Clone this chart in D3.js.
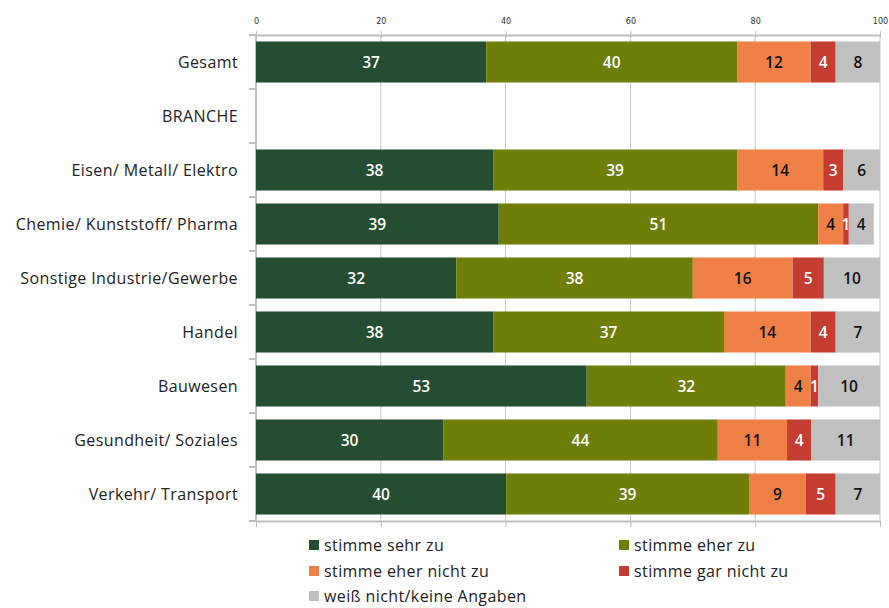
<!DOCTYPE html>
<html>
<head>
<meta charset="utf-8">
<script src="https://cdn.jsdelivr.net/npm/d3@7"></script>
<style>
  body { margin: 0; background: #fff; }
  svg { font-family: "Open Sans", Lato, sans-serif; }
</style>
</head>
<body>
<div class="chart"></div>
<script>
const width = 889;
const height = 608;

// categories (top to bottom)
const categories = [
    "Gesamt",
    "BRANCHE",
    "Eisen/ Metall/ Elektro",
    "Chemie/ Kunststoff/ Pharma",
    "Sonstige Industrie/Gewerbe",
    "Handel",
    "Bauwesen",
    "Gesundheit/ Soziales",
    "Verkehr/ Transport",
];

const seriesNames = [
    "stimme sehr zu",
    "stimme eher zu",
    "stimme eher nicht zu",
    "stimme gar nicht zu",
    "weiß nicht/keine Angaben",
];

const seriesColors = ["#254D32", "#6E7E06", "#F08146", "#C43D30", "#C0C0C0"];
const labelColors = ["#fff", "#fff", "#111", "#fff", "#111"];

// segment widths (percent)
const sehrZu = [36.9, null, 38.0, 38.9, 32.1, 38.0, 53.0, 30.0, 40.1];
const eherZu = [40.2, null, 39.1, 51.2, 37.9, 37.0, 31.9, 44.0, 38.9];
const eherNicht = [11.8, null, 13.8, 4.0, 16.0, 13.9, 4.0, 11.1, 9.1];
const garNicht = [4.0, null, 3.2, 0.9, 5.0, 4.0, 1.2, 3.9, 4.8];
const weissNicht = [7.1, null, 5.9, 4.0, 9.0, 7.1, 9.9, 11.0, 7.1];

// printed labels (rounded values)
const sehrZuLbl = [37, null, 38, 39, 32, 38, 53, 30, 40];
const eherZuLbl = [40, null, 39, 51, 38, 37, 32, 44, 39];
const eherNichtLbl = [12, null, 14, 4, 16, 14, 4, 11, 9];
const garNichtLbl = [4, null, 3, 1, 5, 4, 1, 4, 5];
const weissNichtLbl = [8, null, 6, 4, 10, 7, 10, 11, 7];

const xTicks = [0, 20, 40, 60, 80, 100];

const series = [sehrZu, eherZu, eherNicht, garNicht, weissNicht];
const labels = [sehrZuLbl, eherZuLbl, eherNichtLbl, garNichtLbl, weissNichtLbl];

let rows = categories.map((c, i) => {
    let row = { cat: c };
    seriesNames.forEach((s, j) => {
        row[s] = series[j][i] == null ? 0 : series[j][i];
    });
    return row;
});

let stacked = d3.stack().keys(seriesNames)(rows);

const plotLeft = 256, plotRight = 880, plotTop = 35, plotBottom = 521;

let svg = d3.select(".chart").append("svg")
    .attr("width", width)
    .attr("height", height);

let xScale = d3.scaleLinear().domain([0, 100]).range([plotLeft, plotRight]);
let yScale = d3.scaleBand().domain(categories).range([plotTop, plotBottom]).paddingInner(0.24).paddingOuter(0.12);

// vertical grid lines
svg.append("g")
    .selectAll("line")
    .data(xTicks.slice(1))
    .enter()
    .append("line")
    .attr("x1", d => xScale(d))
    .attr("x2", d => xScale(d))
    .attr("y1", plotTop)
    .attr("y2", plotBottom)
    .attr("stroke", "#C9C9C9")
    .attr("stroke-width", 1);

// top axis
let xAxisTop = d3.axisTop(xScale).tickValues(xTicks).tickSize(4).tickSizeOuter(0);
let gTop = svg.append("g")
    .attr("transform", "translate(0," + plotTop + ")")
    .call(xAxisTop);
gTop.select(".domain").attr("stroke", "#BFBFBF").attr("stroke-width", 2);
gTop.selectAll(".tick line").attr("stroke", "#BFBFBF").attr("y2", 3).attr("y1", -4);
gTop.selectAll(".tick text")
    .attr("y", -11)
    .attr("font-family", "'DejaVu Sans', sans-serif")
    .attr("font-size", 8)
    .attr("fill", "#333");

// bottom axis
let xAxisBottom = d3.axisBottom(xScale).tickValues(xTicks).tickSize(6).tickSizeOuter(0).tickFormat("");
let gBot = svg.append("g")
    .attr("transform", "translate(0," + plotBottom + ")")
    .call(xAxisBottom);
gBot.select(".domain").attr("stroke", "#BFBFBF").attr("stroke-width", 2);
gBot.selectAll(".tick line").attr("stroke", "#BFBFBF");

// left axis with ticks at category boundaries
svg.append("line")
    .attr("x1", plotLeft).attr("x2", plotLeft)
    .attr("y1", plotTop).attr("y2", plotBottom)
    .attr("stroke", "#BFBFBF").attr("stroke-width", 2);
let step = yScale.step();
svg.append("g")
    .selectAll("line")
    .data(d3.range(categories.length + 1))
    .enter()
    .append("line")
    .attr("x1", plotLeft - 7)
    .attr("x2", plotLeft)
    .attr("y1", i => plotTop + i * step)
    .attr("y2", i => plotTop + i * step)
    .attr("stroke", "#BFBFBF")
    .attr("stroke-width", 2);

// category labels
svg.append("g")
    .selectAll("text")
    .data(categories)
    .enter()
    .append("text")
    .text(d => d)
    .attr("x", 238)
    .attr("y", d => yScale(d) + yScale.bandwidth() / 2)
    .attr("dy", "0.35em")
    .attr("text-anchor", "end")
    .attr("font-size", 16)
    .attr("letter-spacing", 0.4)
    .attr("fill", "#222");

// bars
let layers = svg.append("g")
    .selectAll("g")
    .data(stacked)
    .enter()
    .append("g")
    .attr("fill", (d, i) => seriesColors[i]);

layers.selectAll("rect")
    .data(d => d.filter(p => p[1] > p[0]))
    .enter()
    .append("rect")
    .attr("x", d => xScale(d[0]))
    .attr("width", d => xScale(d[1]) - xScale(d[0]))
    .attr("y", d => yScale(d.data.cat))
    .attr("height", yScale.bandwidth());

// value labels
stacked.forEach((layer, j) => {
    svg.append("g")
        .selectAll("text")
        .data(layer.map((d, i) => ({ d: d, lbl: labels[j][i] })).filter(o => o.lbl != null))
        .enter()
        .append("text")
        .text(o => o.lbl)
        .attr("x", o => (xScale(o.d[0]) + xScale(o.d[1])) / 2)
        .attr("y", o => yScale(o.d.data.cat) + yScale.bandwidth() / 2)
        .attr("dy", "0.36em")
        .attr("text-anchor", "middle")
        .attr("font-size", 15.5)
        .attr("font-weight", 600)
        .attr("fill", labelColors[j]);
});

// legend
const legendPos = [[309, 545], [619, 545], [309, 571], [619, 571], [309, 596]];
let legend = svg.append("g")
    .selectAll("g")
    .data(seriesNames)
    .enter()
    .append("g")
    .attr("transform", (d, i) => "translate(" + legendPos[i][0] + "," + legendPos[i][1] + ")");
legend.append("rect")
    .attr("x", 0).attr("y", -5)
    .attr("width", 10).attr("height", 10)
    .attr("fill", (d, i) => seriesColors[i]);
legend.append("text")
    .text(d => d)
    .attr("x", 15)
    .attr("dy", "0.35em")
    .attr("font-size", 16)
    .attr("letter-spacing", 0.4)
    .attr("fill", "#222");
</script>
</body>
</html>
